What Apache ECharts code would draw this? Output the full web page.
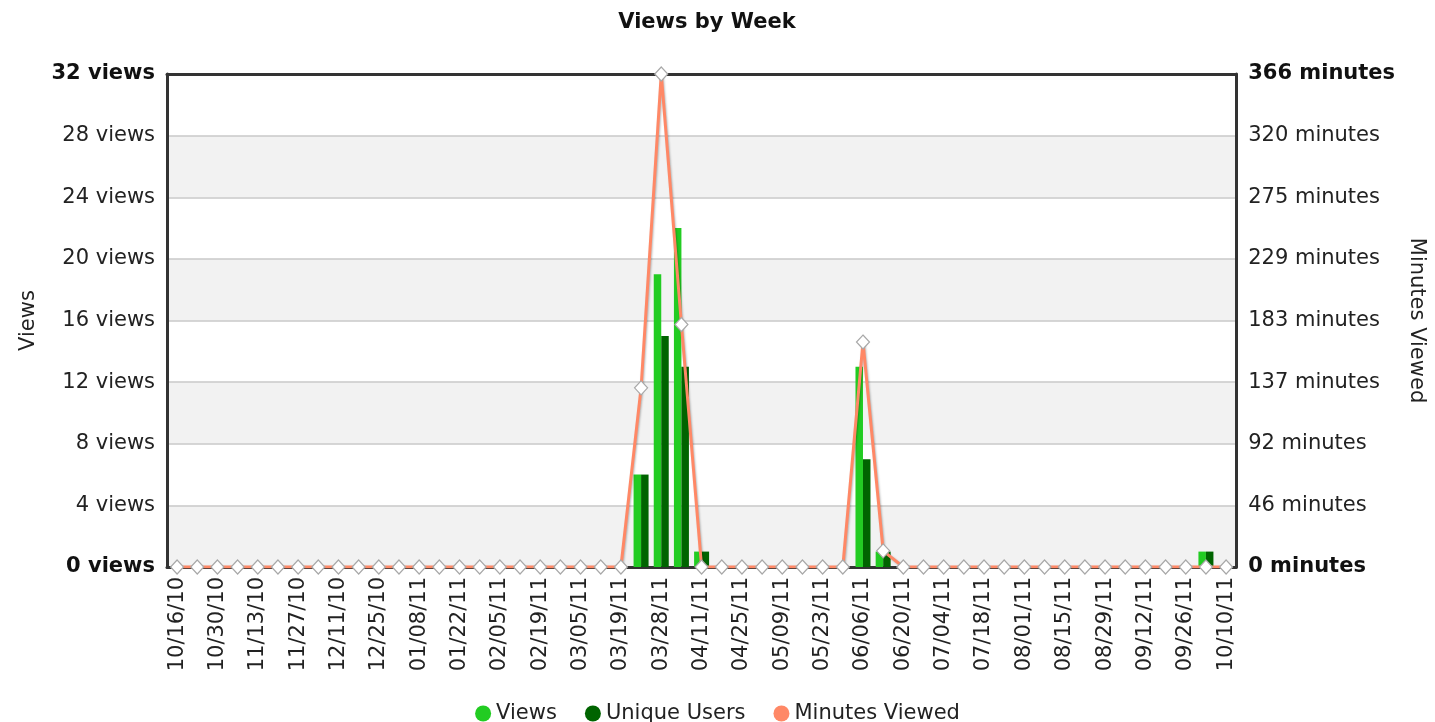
<!DOCTYPE html>
<html>
<head>
<meta charset="utf-8">
<script src="https://cdn.jsdelivr.net/npm/echarts@6/dist/echarts.min.js"></script>
<style>
html,body{margin:0;padding:0;background:#fff;}
#chart{width:1435px;height:722px;}
</style>
</head>
<body>
<div id="chart"></div>
<script>
var weeks = ['10/16/10','10/23/10','10/30/10','11/06/10','11/13/10','11/20/10','11/27/10','12/04/10','12/11/10','12/18/10',
  '12/25/10','01/01/11','01/08/11','01/15/11','01/22/11','01/29/11','02/05/11','02/12/11','02/19/11','02/26/11',
  '03/05/11','03/12/11','03/19/11','03/21/11','03/28/11','04/04/11','04/11/11','04/18/11','04/25/11','05/02/11',
  '05/09/11','05/16/11','05/23/11','05/30/11','06/06/11','06/13/11','06/20/11','06/27/11','07/04/11','07/11/11',
  '07/18/11','07/25/11','08/01/11','08/08/11','08/15/11','08/22/11','08/29/11','09/05/11','09/12/11','09/19/11',
  '09/26/11','10/03/11','10/10/11'];
var views = [0,0,0,0,0,0,0,0,0,0, 0,0,0,0,0,0,0,0,0,0, 0,0,0,6,19,22,1,0,0,0, 0,0,0,0,13,1,0,0,0,0, 0,0,0,0,0,0,0,0,0,0, 0,1,0];
var uniqueUsers = [0,0,0,0,0,0,0,0,0,0, 0,0,0,0,0,0,0,0,0,0, 0,0,0,6,15,13,1,0,0,0, 0,0,0,0,7,1,0,0,0,0, 0,0,0,0,0,0,0,0,0,0, 0,1,0];
var minutesViewed = [0,0,0,0,0,0,0,0,0,0, 0,0,0,0,0,0,0,0,0,0, 0,0,0,133,366,180,0,0,0,0, 0,0,0,0,167,12,0,0,0,0, 0,0,0,0,0,0,0,0,0,0, 0,0,0];
var leftTickLabels = ['0 views','4 views','8 views','12 views','16 views','20 views','24 views','28 views','32 views'];
var rightTickLabels = ['0 minutes','46 minutes','92 minutes','137 minutes','183 minutes','229 minutes','275 minutes','320 minutes','366 minutes'];

var FONT = 'DejaVu Sans';
var chart = echarts.init(document.getElementById('chart'));
var leftInterval = 4, rightMax = 366, rightInterval = rightMax / 8;
function lbl(arr, idx, last) {
  var s = arr[idx] || '';
  return (idx === 0 || idx === last) ? '{b|' + s + '}' : s;
}
var LINE_COLOR = '#ff8866';
chart.setOption({
  animation: false,
  backgroundColor: '#ffffff',
  title: {
    text: 'Views by Week', left: 702, top: 7, textAlign: 'center',
    textStyle: { fontFamily: FONT, fontSize: 21, fontWeight: 'bold', color: '#111' }
  },
  legend: {
    top: 698, left: 'center', icon: 'circle', itemWidth: 16, itemHeight: 16, itemGap: 28,
    textStyle: { fontFamily: FONT, fontSize: 21, color: '#222' },
    data: ['Views', 'Unique Users', { name: 'Minutes Viewed', itemStyle: { color: LINE_COLOR, borderWidth: 0 } }]
  },
  grid: { left: 167, right: 197, top: 74, bottom: 155 },
  xAxis: [{
    type: 'category', data: weeks, boundaryGap: true,
    axisLine: { show: true, onZero: false, lineStyle: { color: '#333', width: 3 } },
    axisTick: { show: false },
    axisLabel: { interval: 1, rotate: 90, margin: 10, fontFamily: FONT, fontSize: 21, color: '#222' },
    splitLine: { show: false }
  }, {
    type: 'category', data: weeks, position: 'top',
    axisLine: { show: true, onZero: false, lineStyle: { color: '#333', width: 3 } },
    axisTick: { show: false }, axisLabel: { show: false }, splitLine: { show: false }
  }],
  yAxis: [{
    type: 'value', min: 0, max: 32, interval: leftInterval, position: 'left',
    name: 'Views', nameLocation: 'middle', nameGap: 128, nameRotate: 90,
    nameTextStyle: { fontFamily: FONT, fontSize: 21, color: '#222' },
    axisLine: { show: true, lineStyle: { color: '#333', width: 3 } },
    axisTick: { show: false },
    axisLabel: {
      margin: 12, fontFamily: FONT, fontSize: 21, color: '#222',
      formatter: function (v) { return lbl(leftTickLabels, Math.round(v / leftInterval), 8); },
      rich: { b: { fontFamily: FONT, fontSize: 21, fontWeight: 'bold', color: '#111' } }
    },
    splitLine: { show: true, lineStyle: { color: '#c8c8c8', width: 1.5 } },
    splitArea: { show: true, areaStyle: { color: ['#f2f2f2', '#ffffff'] } }
  }, {
    type: 'value', min: 0, max: rightMax, interval: rightInterval, position: 'right',
    name: 'Minutes Viewed', nameLocation: 'middle', nameGap: 168, nameRotate: -90,
    nameTextStyle: { fontFamily: FONT, fontSize: 21, color: '#222' },
    axisLine: { show: true, lineStyle: { color: '#333', width: 3 } },
    axisTick: { show: false },
    axisLabel: {
      margin: 12, fontFamily: FONT, fontSize: 21, color: '#222',
      formatter: function (v) { return lbl(rightTickLabels, Math.round(v / rightInterval), 8); },
      rich: { b: { fontFamily: FONT, fontSize: 21, fontWeight: 'bold', color: '#111' } }
    },
    splitLine: { show: false }
  }],
  series: [{
    name: 'Views', type: 'bar', yAxisIndex: 0, data: views,
    barWidth: 7.5, barGap: '0%',
    itemStyle: { color: '#22cc22' }
  }, {
    name: 'Unique Users', type: 'bar', yAxisIndex: 0, data: uniqueUsers,
    barWidth: 7.5,
    itemStyle: { color: '#006400' }
  }, {
    name: 'Minutes Viewed', type: 'line', yAxisIndex: 1, data: minutesViewed,
    z: 5,
    symbol: 'diamond', symbolSize: [13, 14], showAllSymbol: true,
    lineStyle: { color: LINE_COLOR, width: 3, shadowColor: 'rgba(0,0,0,0.25)', shadowBlur: 2, shadowOffsetX: 1, shadowOffsetY: 1 },
    itemStyle: { color: '#ffffff', borderColor: '#a8a8a8', borderWidth: 1.2 },
    emphasis: { disabled: true }
  }]
});
</script>
</body>
</html>
